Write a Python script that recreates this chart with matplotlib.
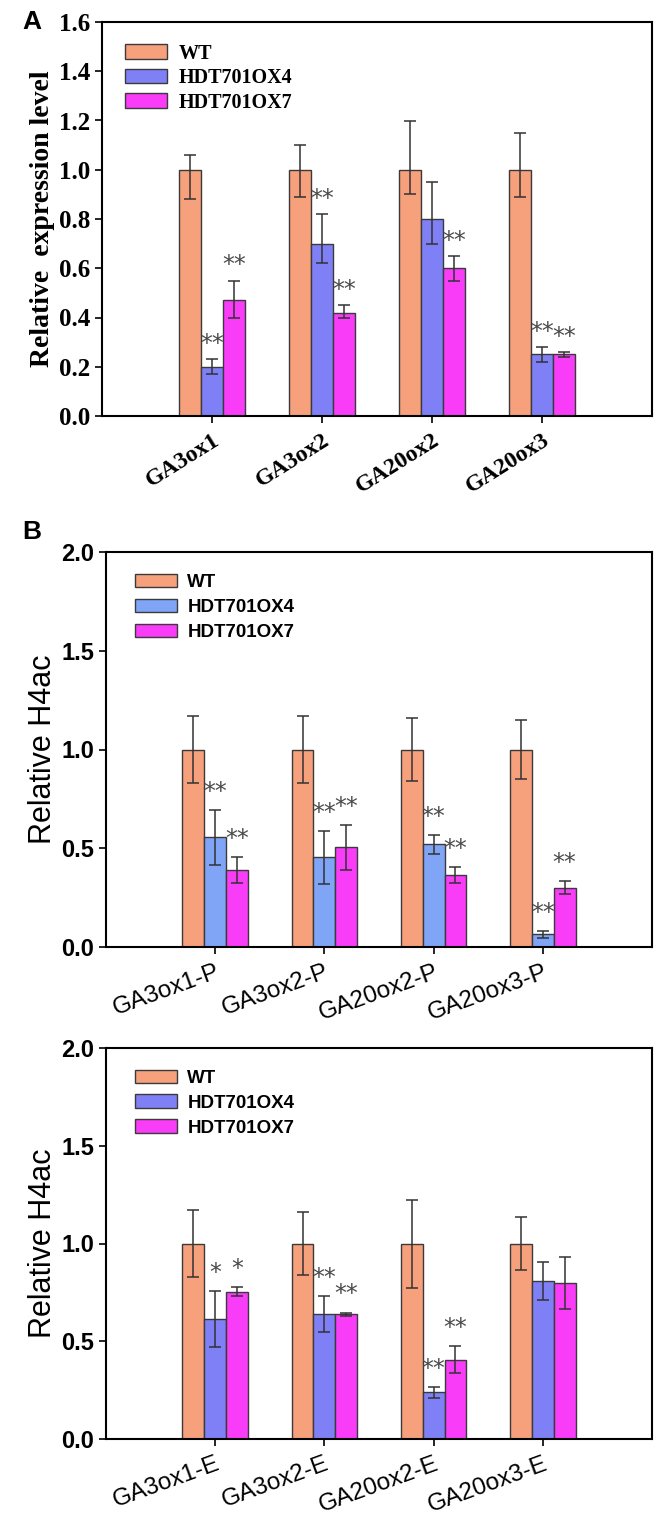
"""Relative expression (A) and H4 acetylation (B) of GA genes in WT vs HDT701 lines."""
import matplotlib
matplotlib.use("Agg")
import matplotlib.pyplot as plt
import numpy as np

SERIES = ["WT", "HDT701OX4", "HDT701OX7"]

# Panel A: relative expression level
GENES_A = ["GA3ox1", "GA3ox2", "GA20ox2", "GA20ox3"]
A_WT = [1.0, 1.0, 1.0, 1.0]
A_WT_LO = [0.12, 0.11, 0.10, 0.11]
A_WT_HI = [0.06, 0.10, 0.20, 0.15]
A_OX4 = [0.20, 0.70, 0.80, 0.25]
A_OX4_LO = [0.03, 0.08, 0.10, 0.03]
A_OX4_HI = [0.03, 0.12, 0.15, 0.03]
A_OX7 = [0.47, 0.42, 0.60, 0.25]
A_OX7_LO = [0.07, 0.02, 0.05, 0.01]
A_OX7_HI = [0.08, 0.03, 0.05, 0.01]
A_SIG_OX4 = ["**", "**", "", "**"]
A_SIG_OX7 = ["**", "**", "**", "**"]

# Panel B (top): promoter H4ac
GENES_P = ["GA3ox1-P", "GA3ox2-P", "GA20ox2-P", "GA20ox3-P"]
P_WT = [1.0, 1.0, 1.0, 1.0]
P_WT_LO = [0.17, 0.17, 0.16, 0.15]
P_WT_HI = [0.17, 0.17, 0.16, 0.15]
P_OX4 = [0.555, 0.455, 0.52, 0.065]
P_OX4_LO = [0.14, 0.135, 0.05, 0.018]
P_OX4_HI = [0.137, 0.13, 0.048, 0.016]
P_OX7 = [0.39, 0.505, 0.365, 0.30]
P_OX7_LO = [0.065, 0.113, 0.043, 0.032]
P_OX7_HI = [0.064, 0.114, 0.042, 0.034]
P_SIG_OX4 = ["**", "**", "**", "**"]
P_SIG_OX7 = ["**", "**", "**", "**"]

# Panel B (bottom): exon H4ac
GENES_E = ["GA3ox1-E", "GA3ox2-E", "GA20ox2-E", "GA20ox3-E"]
E_WT = [1.0, 1.0, 1.0, 1.0]
E_WT_LO = [0.172, 0.16, 0.228, 0.138]
E_WT_HI = [0.169, 0.162, 0.224, 0.134]
E_OX4 = [0.615, 0.64, 0.24, 0.81]
E_OX4_LO = [0.143, 0.093, 0.028, 0.098]
E_OX4_HI = [0.144, 0.093, 0.024, 0.093]
E_OX7 = [0.753, 0.637, 0.403, 0.797]
E_OX7_LO = [0.022, 0.008, 0.067, 0.133]
E_OX7_HI = [0.023, 0.010, 0.071, 0.134]
E_SIG_OX4 = ["*", "**", "**", ""]
E_SIG_OX7 = ["*", "**", "**", ""]

WT_COLOR = "#F7A07C"
OX7_COLOR = "#F83CF8"


def draw_panel(ax, genes, vals, los, his, sigs, colors, ymax, yticks,
               ylabel, serif, xrot, star_off):
    x = np.arange(1, len(genes) + 1)
    width = 0.2
    if serif:
        fam = "Liberation Serif"
        lab_kw = dict(fontweight="bold", fontsize=20, labelpad=3)
        tick_size, xlab_w, xlab_size, leg_size = 18, "bold", 17, 14.5
        leg_kw = dict(handlelength=2.1, handletextpad=0.55, labelspacing=0.22,
                      bbox_to_anchor=(0.042, 0.945))
    else:
        fam = "Liberation Sans"
        lab_kw = dict(fontweight="normal", fontsize=22, labelpad=2)
        tick_size, xlab_w, xlab_size, leg_size = 17, "normal", 17.5, 13.5
        leg_kw = dict(handlelength=2.25, handletextpad=0.55, labelspacing=0.4,
                      bbox_to_anchor=(0.053, 0.945))
    for i, (v, lo, hi, c, name) in enumerate(zip(vals, los, his, colors, SERIES)):
        xs = x + (i - 1) * width
        ax.bar(xs, v, width, color=c, edgecolor="#3a3a3a", linewidth=1.0,
               label=name, zorder=2)
        ax.errorbar(xs, v, yerr=[lo, hi], fmt="none", ecolor="#333333",
                    elinewidth=1.1, capsize=4, capthick=1.1, zorder=3)
        if i == 0:
            continue
        for xx, vv, hh, s in zip(xs, v, hi, sigs[i - 1]):
            if s:
                ax.annotate(s, (xx, vv + hh), xytext=(0, star_off),
                            textcoords="offset points", ha="center",
                            va="center", fontsize=17, color="#4a4a4a",
                            family="DejaVu Sans")
    ax.set_xlim(0, 5)
    ax.set_ylim(0, ymax)
    ax.set_yticks(yticks)
    ax.set_yticklabels([f"{t:.1f}" for t in yticks], family=fam,
                       fontweight="bold", fontsize=tick_size)
    ax.set_xticks(x)
    ax.set_xticklabels(genes, rotation=xrot, ha="right",
                       rotation_mode="anchor", family=fam,
                       fontweight=xlab_w, fontsize=xlab_size)
    ax.tick_params(axis="both", direction="out", length=5, width=1.2,
                   top=False, right=False)
    ax.tick_params(axis="x", pad=5)
    for sp in ax.spines.values():
        sp.set_linewidth(1.5)
    ax.set_ylabel(ylabel, family=fam, **lab_kw)
    ax.legend(loc="upper left", frameon=False, borderaxespad=0, borderpad=0,
              handleheight=0.75,
              prop={"family": fam, "weight": "bold", "size": leg_size},
              **leg_kw)


def main() -> None:
    fig = plt.figure(figsize=(6.61, 15.2), dpi=100)
    W, H = 661, 1520
    axA = fig.add_axes([102 / W, 1 - 416 / H, 550 / W, 394 / H])
    axP = fig.add_axes([106 / W, 1 - 947 / H, 546 / W, 395 / H])
    axE = fig.add_axes([106 / W, 1 - 1439 / H, 546 / W, 391 / H])

    draw_panel(axA, GENES_A, [A_WT, A_OX4, A_OX7],
               [A_WT_LO, A_OX4_LO, A_OX7_LO], [A_WT_HI, A_OX4_HI, A_OX7_HI],
               [A_SIG_OX4, A_SIG_OX7], [WT_COLOR, "#8080F6", OX7_COLOR],
               1.6, np.arange(0, 1.61, 0.2), "Relative  expression level",
               True, 32, 11)
    draw_panel(axP, GENES_P, [P_WT, P_OX4, P_OX7],
               [P_WT_LO, P_OX4_LO, P_OX7_LO], [P_WT_HI, P_OX4_HI, P_OX7_HI],
               [P_SIG_OX4, P_SIG_OX7], [WT_COLOR, "#80A4F6", OX7_COLOR],
               2.0, np.arange(0, 2.01, 0.5), "Relative H4ac",
               False, 20, 13)
    draw_panel(axE, GENES_E, [E_WT, E_OX4, E_OX7],
               [E_WT_LO, E_OX4_LO, E_OX7_LO], [E_WT_HI, E_OX4_HI, E_OX7_HI],
               [E_SIG_OX4, E_SIG_OX7], [WT_COLOR, "#8080F6", OX7_COLOR],
               2.0, np.arange(0, 2.01, 0.5), "Relative H4ac",
               False, 20, 13)

    fig.text(22 / W, 1 - 22 / H, "A", fontsize=19, fontweight="bold",
             family="Liberation Sans", va="center")
    fig.text(22 / W, 1 - 532 / H, "B", fontsize=19, fontweight="bold",
             family="Liberation Sans", va="center")

    fig.savefig("out.png", dpi=100)


if __name__ == "__main__":
    main()
